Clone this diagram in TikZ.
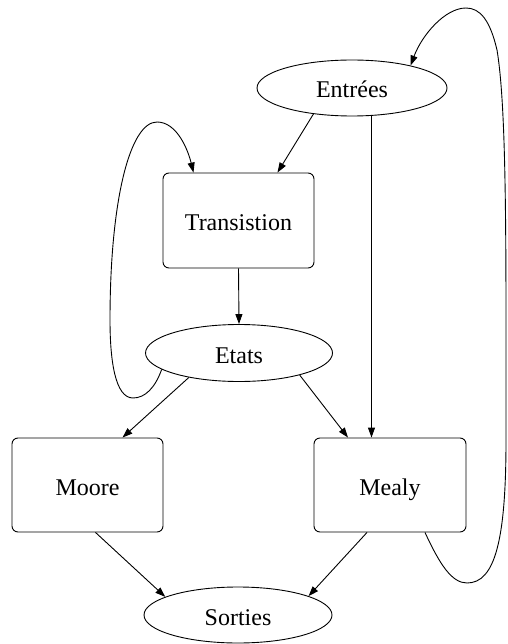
\documentclass[tikz,border=0pt]{standalone}
\usepackage{fontspec}
\setmainfont{Liberation Serif}
\usetikzlibrary{shapes.geometric,arrows.meta}
\begin{document}
\begin{tikzpicture}[x=1pt, y=-1pt,
    >={Triangle[length=10pt,width=7pt]},
    every node/.style={font=\fontsize{24}{28}\selectfont, text height=22pt, text depth=2pt},
    etat/.style={draw, ellipse, inner sep=0pt, line width=0.9pt},
    bloc/.style={draw, rectangle, rounded corners=6pt, inner sep=0pt, line width=0.9pt},
    edge/.style={->, line width=0.9pt}]

  \useasboundingbox (0,0) rectangle (507,644);

  \node[etat, minimum width=190pt, minimum height=56pt] (entrees) at (352,88) {Entrées};
  \node[bloc, minimum width=151pt, minimum height=95pt] (trans) at (238.5,220.5) {Transistion};
  \node[etat, minimum width=187pt, minimum height=57pt] (etats) at (239,353) {Etats};
  \node[bloc, minimum width=151pt, minimum height=94pt] (moore) at (87.5,485) {Moore};
  \node[bloc, minimum width=152pt, minimum height=94pt] (mealy) at (390,485) {Mealy};
  \node[etat, minimum width=188pt, minimum height=56pt] (sorties) at (238,615) {Sorties};

  \draw[edge] (entrees.214) -- ([xshift=39pt]trans.north);
  \draw[edge] (entrees.-55) -- (entrees.-55 |- mealy.north);
  \draw[edge] (trans.south) -- (etats.north);
  \draw[edge] (etats.-154) -- ([xshift=35pt]moore.north);
  \draw[edge] (etats.-20) -- ([xshift=-42pt]mealy.north);
  \draw[edge] ([xshift=8pt]moore.south) -- (sorties.166);
  \draw[edge] ([xshift=-23pt]mealy.south) -- (sorties.15);

  % boucles
  \draw[edge] (etats.192) .. controls (155,388) and (145,398) .. (133,398)
    .. controls (115,398) and (110,360) .. (110,320)
    .. controls (110,200) and (130,122) .. (157,122)
    .. controls (177,122) and (188,150) .. ([xshift=-45pt]trans.north);
  \draw[edge] ([xshift=35pt]mealy.south) .. controls (440,565) and (452,583) .. (467,583)
    .. controls (495,583) and (506,540) .. (506,440)
    .. controls (506,250) and (507,110) .. (497,50)
    .. controls (490,20) and (480,8) .. (466,8)
    .. controls (445,8) and (422,35) .. (entrees.21);
\end{tikzpicture}
\end{document}
